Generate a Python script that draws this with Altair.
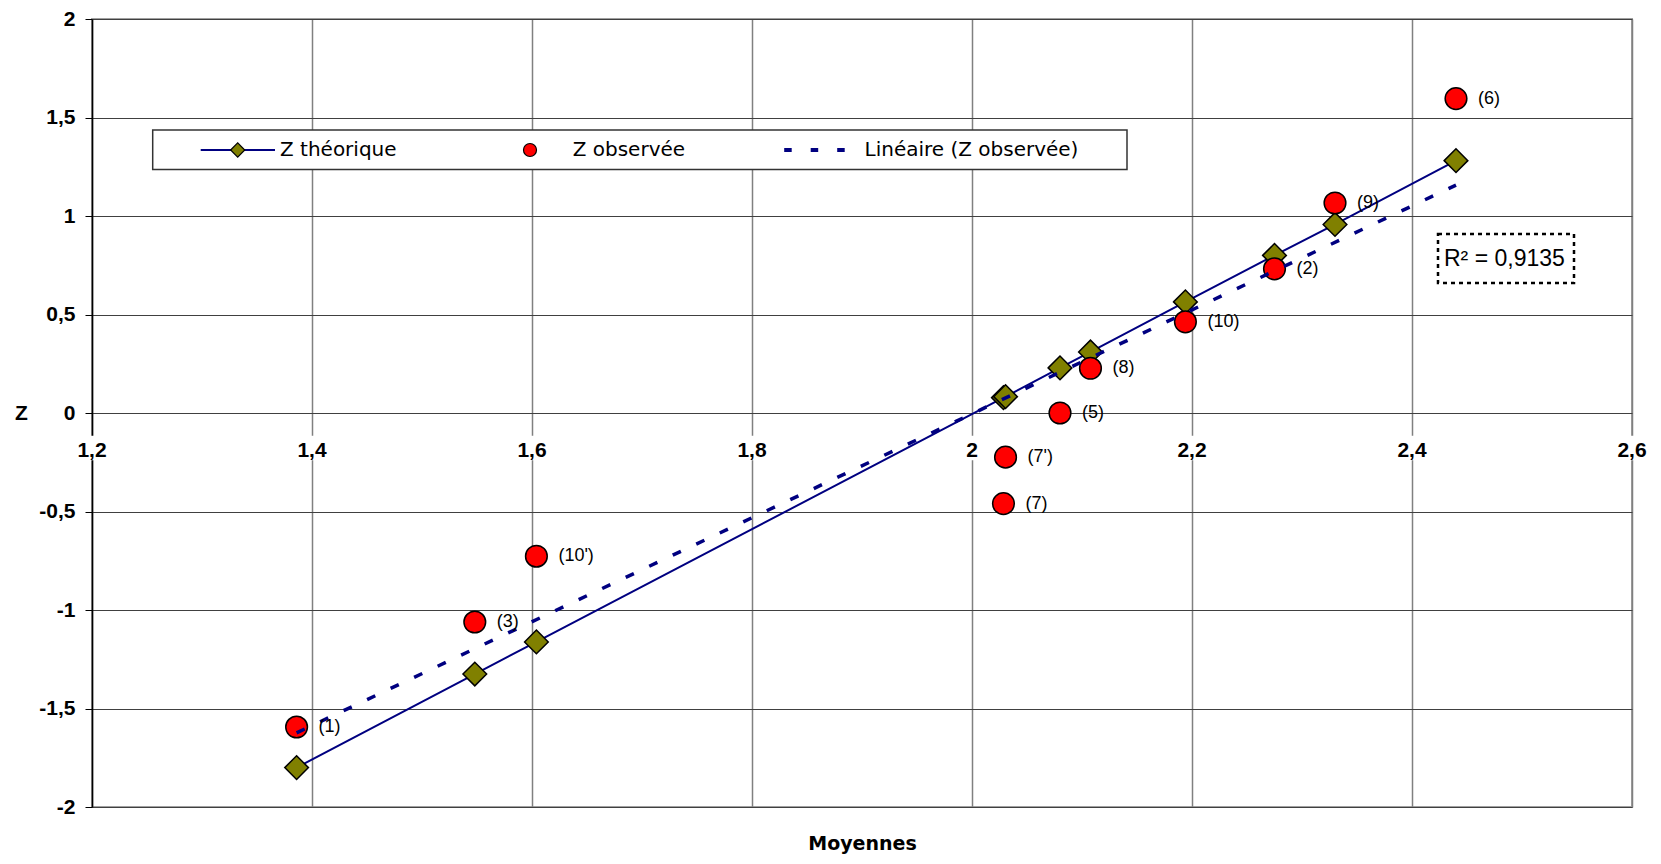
import altair as alt
import pandas as pd

# ---------------- data ----------------
moyennes = [1.386, 1.548, 1.604, 2.0286, 2.0305, 2.080, 2.1077, 2.194, 2.275, 2.330, 2.440]
z_theorique = [-1.80, -1.325, -1.162, 0.078, 0.083, 0.229, 0.310, 0.564, 0.800, 0.957, 1.281]
z_observee = [-1.594, -1.061, -0.727, -0.460, -0.224, 0.000, 0.227, 0.463, 0.732, 1.066, 1.596]
point_labels = ["(1)", "(3)", "(10')", "(7)", "(7')", "(5)", "(8)", "(10)", "(2)", "(9)", "(6)"]

x_ticks = [1.2, 1.4, 1.6, 1.8, 2.0, 2.2, 2.4, 2.6]
x_tick_labels = ["1,2", "1,4", "1,6", "1,8", "2", "2,2", "2,4", "2,6"]
y_ticks = [-2, -1.5, -1, -0.5, 0, 0.5, 1, 1.5, 2]

legend_labels = ["Z théorique", "Z observée", "Linéaire (Z observée)"]
r2_text = "R² = 0,9135"
x_title = "Moyennes"
y_title = "Z"

# ---------------- tables ----------------
df_t = pd.DataFrame({"x": moyennes, "z": z_theorique})
df_o = pd.DataFrame({"x": moyennes, "z": z_observee, "label": point_labels})
df_ticks = pd.DataFrame({"x": x_ticks, "z": [0] * len(x_ticks), "label": x_tick_labels})
one = pd.DataFrame({"k": [0]})

W, H = 1540, 788
NAVY = "#000080"
OLIVE = "#808000"
TICK_FONT = "Liberation Sans"

xs = alt.Scale(domain=[1.2, 2.6], nice=False, zero=False)
ys = alt.Scale(domain=[-2, 2], nice=False, zero=False)

x_axis = alt.Axis(
    title=x_title, values=x_ticks, labels=False, ticks=False, domain=False,
    grid=True, gridColor="#808080", gridWidth=1.5,
    titleFont="DejaVu Sans", titleFontWeight="bold", titleFontSize=19,
    titleColor="black", titleBaseline="alphabetic", titlePadding=42,
)
y_axis = alt.Axis(
    title=y_title, values=y_ticks,
    labelExpr="replace(toString(datum.value), '.', ',')",
    labelFont=TICK_FONT, labelFontWeight="bold", labelFontSize=21,
    labelColor="black", labelPadding=10,
    tickSize=7, tickColor="black", tickWidth=1,
    domain=True, domainColor="black", domainWidth=1.5,
    grid=True, gridColor="#404040", gridWidth=1,
    titleAngle=0, titleX=-71, titleY=394, titleAlign="center", titleBaseline="middle",
    titleFont=TICK_FONT, titleFontWeight="bold", titleFontSize=21, titleColor="black",
)

X = alt.X("x:Q", scale=xs, axis=x_axis)
Y = alt.Y("z:Q", scale=ys, axis=y_axis)

# x tick labels on the zero line, with a white background patch
tick_bg = alt.Chart(df_ticks).mark_point(
    shape="square", filled=True, color="white", size=600, opacity=1, strokeWidth=0, yOffset=35
).encode(x=X, y=Y)
tick_txt = alt.Chart(df_ticks).mark_text(
    font=TICK_FONT, fontWeight="bold", fontSize=21, color="black",
    align="center", baseline="alphabetic", dy=44
).encode(x=X, y=Y, text="label:N")

theo_line = alt.Chart(df_t).mark_line(color=NAVY, strokeWidth=2).encode(x=X, y=Y, order="x:Q")
theo_pts = alt.Chart(df_t).mark_point(
    shape="diamond", filled=True, fill=OLIVE, stroke="black", strokeWidth=1.5, size=560, opacity=1
).encode(x=X, y=Y)
obs_pts = alt.Chart(df_o).mark_point(
    shape="circle", filled=True, fill="#ff0000", stroke="black", strokeWidth=1.5, size=470, opacity=1
).encode(x=X, y=Y)
trend = alt.Chart(df_o).transform_regression("x", "z").mark_line(
    color=NAVY, strokeWidth=3.5, strokeDash=[9, 17]
).encode(x=X, y=Y)
obs_txt = alt.Chart(df_o).mark_text(
    font="Liberation Sans", fontSize=18, color="black", align="left", baseline="middle", dx=22
).encode(x=X, y=Y, text="label:N")

# ---------------- legend (decoration) ----------------
LY = 131
leg_box = alt.Chart(one).mark_rect(fill="white", stroke="#333333", strokeWidth=1.5).encode(
    x=alt.value(60.7), x2=alt.value(1035), y=alt.value(111), y2=alt.value(150.5))
leg_line = alt.Chart(one).mark_rule(color=NAVY, strokeWidth=2).encode(
    x=alt.value(108.7), x2=alt.value(183), y=alt.value(LY))
leg_diam = alt.Chart(one).mark_point(
    shape="diamond", filled=True, fill=OLIVE, stroke="black", strokeWidth=1.2, size=200, opacity=1
).encode(x=alt.value(145.7), y=alt.value(LY))
leg_circ = alt.Chart(one).mark_point(
    shape="circle", filled=True, fill="#ff0000", stroke="black", strokeWidth=1.2, size=170, opacity=1
).encode(x=alt.value(438), y=alt.value(LY))
leg_dash = alt.Chart(one).mark_rule(color=NAVY, strokeWidth=4, strokeDash=[7.5, 19]).encode(
    x=alt.value(692.2), x2=alt.value(756), y=alt.value(LY))
leg_texts = []
for lab, px in zip(legend_labels, [188, 480.7, 772.5]):
    leg_texts.append(
        alt.Chart(one).mark_text(
            font="DejaVu Sans", fontSize=20, color="black", align="left", baseline="middle"
        ).encode(x=alt.value(px), y=alt.value(LY), text=alt.value(lab))
    )

# ---------------- R² box ----------------
r2_box = alt.Chart(one).mark_rect(
    fill="white", stroke="black", strokeWidth=2.5, strokeDash=[4, 4]
).encode(x=alt.value(1346), x2=alt.value(1482), y=alt.value(215), y2=alt.value(264))
r2_txt = alt.Chart(one).mark_text(
    font="Liberation Sans", fontSize=23, color="black", align="left", baseline="alphabetic"
).encode(x=alt.value(1352), y=alt.value(247), text=alt.value(r2_text))

chart = alt.layer(
    tick_bg, tick_txt, theo_line, theo_pts, obs_pts, trend, obs_txt,
    leg_box, leg_line, leg_diam, leg_circ, leg_dash, *leg_texts,
    r2_box, r2_txt,
).properties(
    width=W, height=H,
    autosize=alt.AutoSizeParams(type="none"),
    padding={"left": 84, "top": 11, "right": 20, "bottom": 49},
    background="white",
).configure_view(stroke="#a0a0a0", strokeWidth=2)

chart.save("out.html", embed_options={"renderer": "svg", "actions": False})
